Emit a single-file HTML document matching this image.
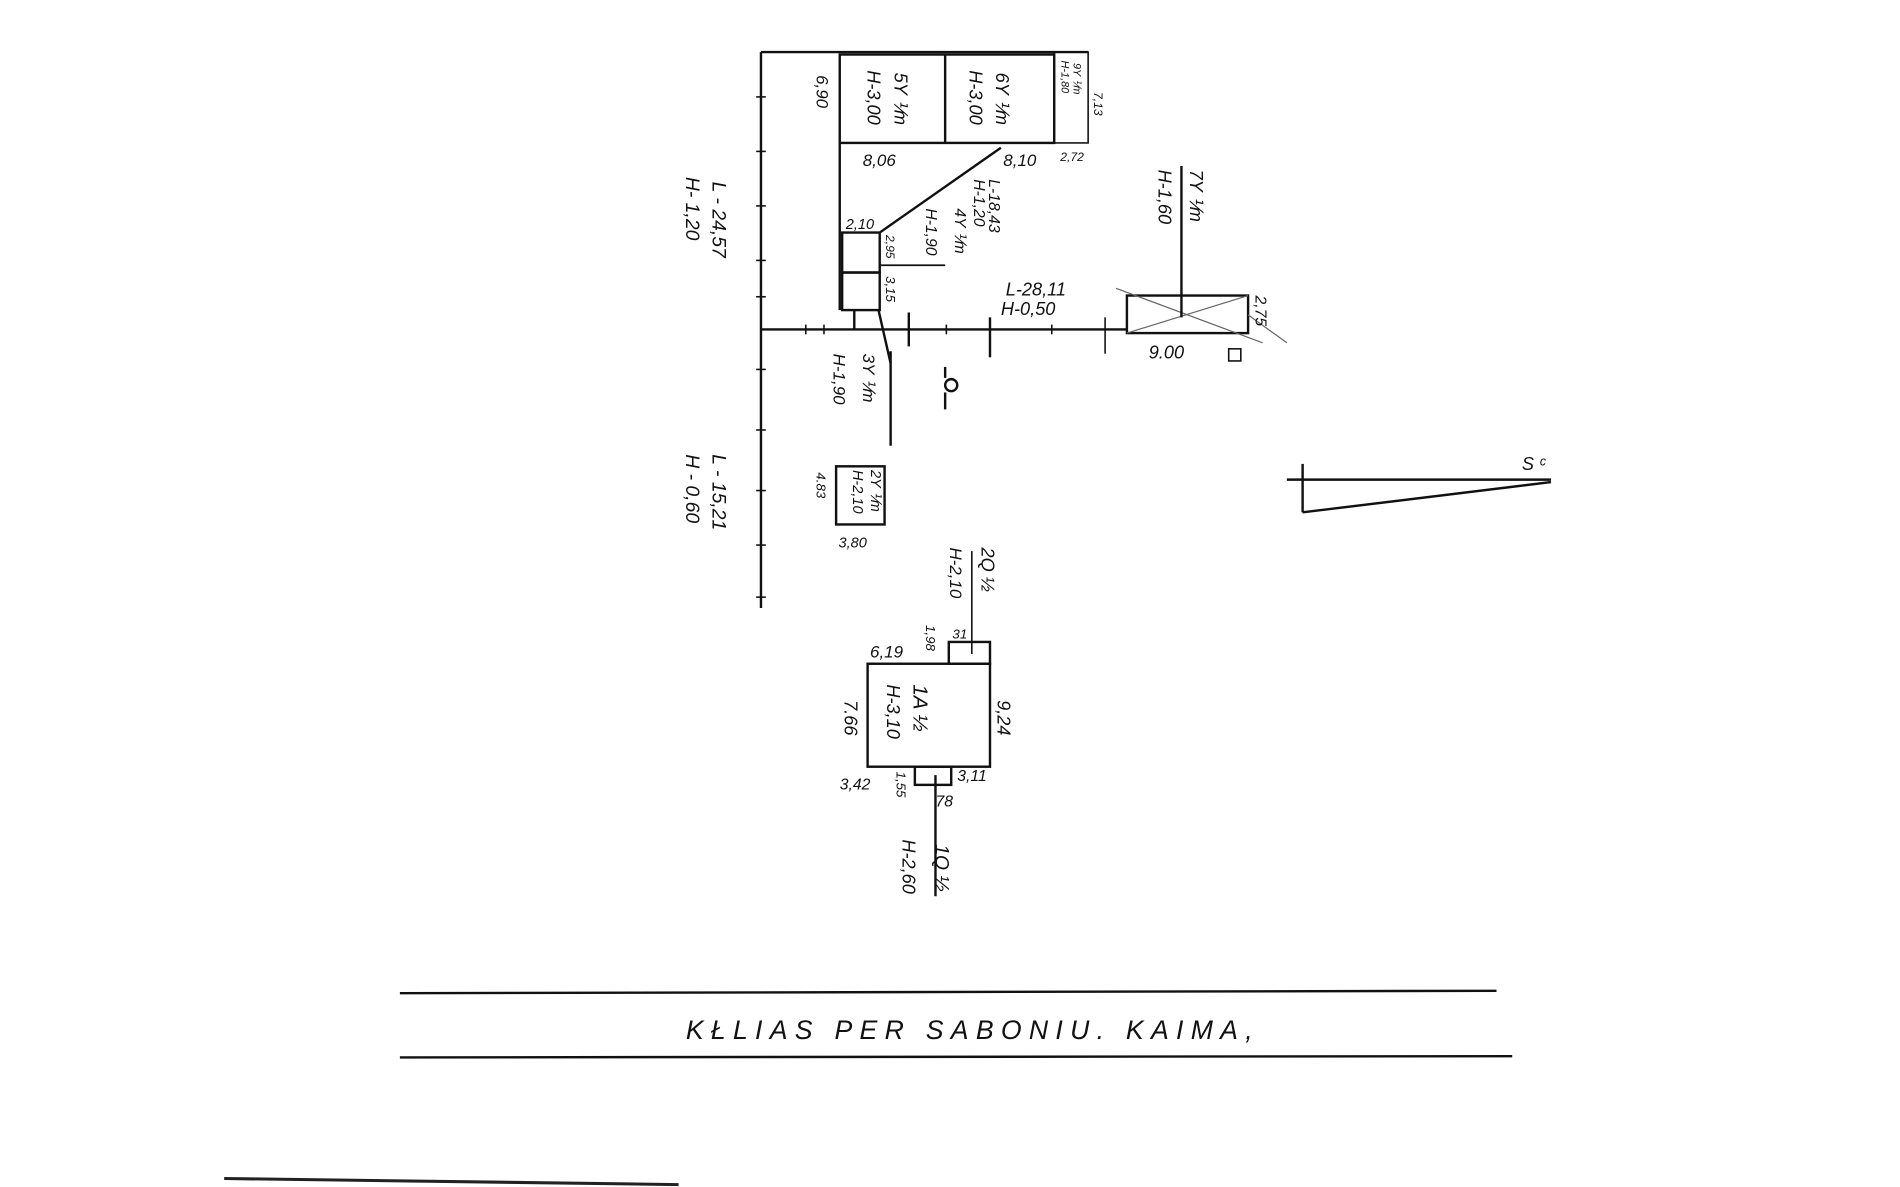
<!DOCTYPE html>
<html><head><meta charset="utf-8"><style>
html,body{margin:0;padding:0;background:#fff;}
svg{display:block}
text{font-family:"Liberation Sans",sans-serif;fill:#111;font-style:italic}
</style></head><body>
<svg width="1900" height="1187" viewBox="0 0 1568 980" preserveAspectRatio="none" xmlns="http://www.w3.org/2000/svg">
<rect x="0" y="0" width="1568" height="980" fill="#fff"/>
<g stroke="#111" stroke-width="2" fill="none">
<line x1="628" y1="43" x2="628" y2="502"/>
<line x1="628" y1="43" x2="898" y2="43"/>
<rect x="693" y="45" width="177" height="73"/>
<line x1="780" y1="45" x2="780" y2="118"/>
<rect x="870" y="43" width="28" height="75" stroke-width="1.3"/>
<line x1="693" y1="118" x2="693" y2="256"/>
<rect x="695" y="192" width="31" height="33"/>
<rect x="695" y="225" width="31" height="31"/>
<line x1="726" y1="192" x2="826" y2="122"/>
<line x1="726" y1="219" x2="780" y2="219" stroke-width="1.5"/>
<line x1="628" y1="272" x2="930" y2="272"/>
<rect x="930" y="244" width="100" height="31"/>
<line x1="921" y1="238" x2="1042" y2="283" stroke-width="1" stroke="#666"/>
<line x1="930" y1="275" x2="1030" y2="244" stroke-width="1" stroke="#666"/>
<line x1="1030" y1="260" x2="1062" y2="283" stroke-width="1" stroke="#666"/>
<line x1="975" y1="137" x2="975" y2="262"/>
<line x1="705" y1="256" x2="705" y2="272"/>
<line x1="725" y1="256" x2="735" y2="300"/>
<line x1="735" y1="290" x2="735" y2="368"/>
<line x1="750" y1="258" x2="750" y2="286"/>
<line x1="817" y1="262" x2="817" y2="295"/>
<line x1="912" y1="262" x2="912" y2="292" stroke-width="1.3"/>
<rect x="690" y="385" width="40" height="48"/>
<circle cx="785" cy="318" r="5"/>
<line x1="780" y1="303" x2="780" y2="312"/>
<line x1="780" y1="324" x2="780" y2="338"/>
<line x1="1075" y1="383" x2="1075" y2="423"/>
<line x1="1062" y1="396" x2="1280" y2="396"/>
<line x1="1075" y1="423" x2="1280" y2="398"/>
<rect x="716" y="548" width="101" height="85"/>
<rect x="783" y="530" width="34" height="18"/>
<rect x="755" y="633" width="30" height="15"/>
<line x1="802" y1="455" x2="802" y2="540" stroke-width="1.3"/>
<line x1="772" y1="640" x2="772" y2="740"/>
<line x1="330" y1="820" x2="1235" y2="818"/>
<line x1="330" y1="873" x2="1248" y2="872"/>
<line x1="185" y1="973" x2="560" y2="978" stroke-width="2.5" stroke="#222"/>
</g>
<g stroke="#111" stroke-width="1.3">
<line x1="624" y1="80" x2="632" y2="80"/><line x1="624" y1="125" x2="632" y2="125"/>
<line x1="624" y1="170" x2="632" y2="170"/><line x1="624" y1="215" x2="632" y2="215"/>
<line x1="624" y1="245" x2="632" y2="245"/><line x1="624" y1="305" x2="632" y2="305"/>
<line x1="624" y1="355" x2="632" y2="355"/><line x1="624" y1="405" x2="632" y2="405"/>
<line x1="624" y1="450" x2="632" y2="450"/><line x1="624" y1="493" x2="632" y2="493"/>
<line x1="665" y1="268" x2="665" y2="276"/><line x1="680" y1="268" x2="680" y2="276"/>
<line x1="781" y1="268" x2="781" y2="276"/><line x1="868" y1="268" x2="868" y2="276"/>
</g>
<g font-size="14">
<text transform="translate(674,62) rotate(90)">6,90</text>
<text transform="translate(738,60) rotate(90)" font-size="15">5Y ⅟m</text>
<text transform="translate(716,58) rotate(90)" font-size="15">H-3,00</text>
<text transform="translate(822,60) rotate(90)" font-size="15">6Y ⅟m</text>
<text transform="translate(800,58) rotate(90)" font-size="15">H-3,00</text>
<text transform="translate(886,52) rotate(90)" font-size="9">9Y ⅟m</text>
<text transform="translate(876,50) rotate(90)" font-size="9">H-1,80</text>
<text transform="translate(903,76) rotate(90)" font-size="10">7,13</text>
<text x="875" y="133" font-size="10">2,72</text>
<text x="712" y="137">8,06</text>
<text x="828" y="137">8,10</text>
<text transform="translate(816,148) rotate(90)" font-size="13">L-18,43</text>
<text transform="translate(804,148) rotate(90)" font-size="13">H-1,20</text>
<text transform="translate(788,172) rotate(90)" font-size="13">4Y ⅟m</text>
<text transform="translate(764,172) rotate(90)" font-size="13">H-1,90</text>
<text x="698" y="189" font-size="12">2,10</text>
<text transform="translate(731,194) rotate(90)" font-size="10">2,95</text>
<text transform="translate(731,228) rotate(90)" font-size="11">3,15</text>
<text transform="translate(588,150) rotate(90)" font-size="16">L - 24,57</text>
<text transform="translate(566,146) rotate(90)" font-size="16">H- 1,20</text>
<text transform="translate(588,375) rotate(90)" font-size="16">L - 15,21</text>
<text transform="translate(566,375) rotate(90)" font-size="16">H - 0,60</text>
<text x="830" y="244" font-size="15">L-28,11</text>
<text x="826" y="260" font-size="15">H-0,50</text>
<text transform="translate(982,140) rotate(90)" font-size="15">7Y ⅟m</text>
<text transform="translate(956,140) rotate(90)" font-size="15">H-1,60</text>
<text x="948" y="296" font-size="15">9.00</text>
<rect x="1014" y="288" width="10" height="10" fill="none" stroke="#111" stroke-width="1.3"/>
<text transform="translate(1036,244) rotate(90)" font-size="13">2,75</text>
<text transform="translate(712,292) rotate(90)" font-size="14">3Y ⅟m</text>
<text transform="translate(688,292) rotate(90)" font-size="14">H-1,90</text>
<text transform="translate(719,388) rotate(90)" font-size="12">2Y ⅟m</text>
<text transform="translate(704,388) rotate(90)" font-size="12">H-2,10</text>
<text transform="translate(674,390) rotate(90)" font-size="11">4.83</text>
<text x="692" y="452" font-size="12">3,80</text>
<text transform="translate(810,452) rotate(90)" font-size="15">2Q ½</text>
<text transform="translate(784,452) rotate(90)" font-size="14">H-2,10</text>
<text x="786" y="527" font-size="11">31</text>
<text transform="translate(764,516) rotate(90)" font-size="11">1,98</text>
<text x="718" y="543" font-size="14">6,19</text>
<text transform="translate(754,565) rotate(90)" font-size="17">1A ½</text>
<text transform="translate(732,565) rotate(90)" font-size="15">H-3,10</text>
<text transform="translate(697,578) rotate(90)" font-size="15">7.66</text>
<text transform="translate(823,578) rotate(90)" font-size="15">9,24</text>
<text x="693" y="652" font-size="13">3,42</text>
<text x="790" y="645" font-size="13">3,11</text>
<text transform="translate(740,637) rotate(90)" font-size="11">1,55</text>
<text x="772" y="666" font-size="13">78</text>
<text transform="translate(772,697) rotate(90)" font-size="16">1Q ½</text>
<text transform="translate(745,693) rotate(90)" font-size="15">H-2,60</text>
<text x="1256" y="388" font-size="15">S ᶜ</text>
</g>
<text x="566" y="858" font-size="22" letter-spacing="6" style="font-style:italic">KŁLIAS  PER SABONIU.  KAIMA,</text>
</svg>
</body></html>
